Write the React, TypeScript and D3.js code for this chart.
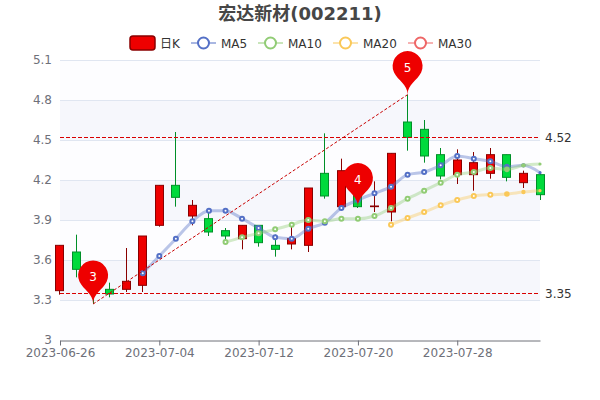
import * as d3 from "d3";
import {useEffect, useRef} from "react";

const dates = [
    "2023-06-26", "2023-06-27", "2023-06-28", "2023-06-29", "2023-06-30", "2023-07-03", "2023-07-04", "2023-07-05",
    "2023-07-06", "2023-07-07", "2023-07-10", "2023-07-11", "2023-07-12", "2023-07-13", "2023-07-14", "2023-07-17",
    "2023-07-18", "2023-07-19", "2023-07-20", "2023-07-21", "2023-07-24", "2023-07-25", "2023-07-26", "2023-07-27",
    "2023-07-28", "2023-07-31", "2023-08-01", "2023-08-02", "2023-08-03", "2023-08-04",
];
const tickDates = ["2023-06-26", "2023-07-04", "2023-07-12", "2023-07-20", "2023-07-28"];
const yTicks = [3, 3.3, 3.6, 3.9, 4.2, 4.5, 4.8, 5.1];

const opens = [3.37, 3.66, 3.5, 3.38, 3.38, 3.41, 3.86, 4.16, 3.93, 3.91, 3.82, 3.76, 3.86, 3.71, 3.72, 3.71, 4.25, 4.0, 4.1, 4.0, 3.96, 4.635, 4.58, 4.39, 4.24, 4.24, 4.25, 4.39, 4.18, 4.24];
const closes = [3.71, 3.53, 3.41, 3.345, 3.44, 3.78, 4.16, 4.07, 4.01, 3.81, 3.78, 3.86, 3.73, 3.68, 3.76, 4.14, 4.08, 4.27, 4.0, 4.005, 4.4, 4.52, 4.38, 4.23, 4.35, 4.33, 4.39, 4.22, 4.25, 4.09];
const highs = [3.71, 3.79, 3.52, 3.43, 3.69, 3.78, 4.16, 4.56, 4.05, 3.96, 3.84, 3.86, 3.86, 3.79, 3.85, 4.14, 4.55, 4.36, 4.1, 4.19, 4.4, 4.84, 4.65, 4.44, 4.43, 4.41, 4.44, 4.39, 4.27, 4.26];
const lows = [3.34, 3.47, 3.27, 3.32, 3.36, 3.36, 3.85, 4.0, 3.86, 3.78, 3.75, 3.68, 3.7, 3.625, 3.68, 3.66, 4.06, 4.0, 3.99, 3.96, 3.89, 4.42, 4.33, 4.205, 4.17, 4.12, 4.21, 4.19, 4.14, 4.05];

// null until the moving average has enough days
const ma5 = [null, null, null, null, null, 3.5, 3.63, 3.76, 3.89, 3.97, 3.97, 3.91, 3.84, 3.77, 3.76, 3.835, 3.88, 3.99, 4.05, 4.1, 4.15, 4.24, 4.26, 4.31, 4.38, 4.36, 4.34, 4.3, 4.31, 4.255];
const ma10 = [null, null, null, null, null, null, null, null, null, null, 3.735, 3.77, 3.8, 3.83, 3.865, 3.9, 3.89, 3.91, 3.91, 3.93, 3.99, 4.06, 4.12, 4.18, 4.24, 4.26, 4.29, 4.28, 4.31, 4.32];
const ma20 = [null, null, null, null, null, null, null, null, null, null, null, null, null, null, null, null, null, null, null, null, 3.865, 3.915, 3.96, 4.01, 4.05, 4.08, 4.09, 4.095, 4.11, 4.12];

const maNames = ["MA5", "MA10", "MA20", "MA30"];
const maColors = ["#5470c6", "#91cc75", "#fac858", "#ee6666"];
const levels = [4.52, 3.35];
const pinIndex = [2, 18, 21];
const pinValue = [3.27, 4.0, 4.84];
const pinLabel = ["3", "4", "5"];

const font = "'DejaVu Sans', 'Noto Sans CJK SC', sans-serif";

// same outline echarts uses for its pin symbol
const pinPath = (x: number, y: number) => {
    const w = 30, h = 50, r = w / 2;
    const dy = r * r / (h - r);
    const cy = y - h + r + dy;
    const angle = Math.asin(dy / r);
    const dx = Math.cos(angle) * r;
    const tanX = Math.sin(angle), tanY = Math.cos(angle);
    const cpLen = r * 0.6, cpLen2 = r * 0.7;
    const p = d3.path();
    p.moveTo(x - dx, cy + dy);
    p.arc(x, cy, r, Math.PI - angle, Math.PI * 2 + angle);
    p.bezierCurveTo(x + dx - tanX * cpLen, cy + dy + tanY * cpLen, x, y - cpLen2, x, y);
    p.bezierCurveTo(x, y - cpLen2, x - dx + tanX * cpLen, cy + dy + tanY * cpLen, x - dx, cy + dy);
    return p.toString();
};

// symbols at the right end are still growing in the reference
const dotRadius = (i: number) => i === 29 ? 1.6 : i === 28 ? 2.2 : i === 27 ? 2.8 : 2;

const App = () => {
    const ref = useRef<SVGSVGElement>(null);

    useEffect(() => {
        const svg = d3.select(ref.current);
        svg.selectAll("*").remove();

        const x = d3.scalePoint().domain(dates).range([60, 540]);
        const y = d3.scaleLinear().domain([3, 5.1]).range([340, 60]);

        // split areas
        svg.append("g").selectAll("rect")
            .data(yTicks.slice(0, -1))
            .join("rect")
            .attr("x", 60)
            .attr("width", 480)
            .attr("y", (d, i) => y(yTicks[i + 1]))
            .attr("height", (d, i) => y(d) - y(yTicks[i + 1]))
            .attr("fill", (d, i) => i % 2 === 0 ? "#fdfdff" : "#f6f7fc");

        // grid
        svg.append("g").selectAll("line")
            .data(yTicks.slice(1))
            .join("line")
            .attr("x1", 60).attr("x2", 540)
            .attr("y1", d => y(d) + 0.5).attr("y2", d => y(d) + 0.5)
            .attr("stroke", "#e0e6f1");

        const yAxis = svg.append("g")
            .attr("transform", "translate(60,0)")
            .call(d3.axisLeft(y).tickValues(yTicks).tickSize(0).tickPadding(8).tickFormat(d => String(d)));
        yAxis.select(".domain").remove();
        yAxis.selectAll("text").attr("fill", "#6e7079").style("font", `12px ${font}`);

        const xAxis = svg.append("g")
            .attr("transform", "translate(0,340.5)")
            .call(d3.axisBottom(x).tickValues(tickDates).tickSizeInner(5).tickSizeOuter(0).tickPadding(3));
        xAxis.select(".domain").attr("stroke", "#6e7079");
        xAxis.selectAll("line").attr("stroke", "#6e7079");
        xAxis.selectAll("text").attr("fill", "#6e7079").style("font", `12px ${font}`);

        // candles
        const candles = svg.append("g").selectAll("g")
            .data(dates)
            .join("g")
            .attr("stroke", (d, i) => closes[i] >= opens[i] ? "#8a0000" : "#008f28");
        candles.append("line")
            .attr("x1", d => Math.floor(x(d)) + 0.5).attr("x2", d => Math.floor(x(d)) + 0.5)
            .attr("y1", (d, i) => y(highs[i])).attr("y2", (d, i) => y(lows[i]));
        candles.append("rect")
            .attr("x", d => Math.floor(x(d)) - 3.5)
            .attr("width", 8)
            .attr("y", (d, i) => y(Math.max(opens[i], closes[i])))
            .attr("height", (d, i) => Math.max(0.5, Math.abs(y(opens[i]) - y(closes[i]))))
            .attr("fill", (d, i) => closes[i] >= opens[i] ? "#ee0000" : "#00da3c");

        // moving averages
        const maLine = d3.line<number | null>()
            .defined(d => d !== null)
            .x((d, i) => x(dates[i]))
            .y(d => y(d as number))
            .curve(d3.curveMonotoneX);
        [ma5, ma10, ma20].forEach((values, k) => {
            const g = svg.append("g");
            g.append("path")
                .attr("d", maLine(values))
                .attr("fill", "none")
                .attr("stroke", maColors[k])
                .attr("stroke-width", 3)
                .attr("stroke-opacity", 0.4);
            g.selectAll("circle")
                .data(values.map((v, i) => ({v, i})).filter(d => d.v !== null))
                .join("circle")
                .attr("cx", d => x(dates[d.i]))
                .attr("cy", d => y(d.v as number))
                .attr("r", d => dotRadius(d.i))
                .attr("fill", d => d.i >= 27 ? maColors[k] : "#fff")
                .attr("stroke", maColors[k])
                .attr("stroke-width", d => d.i >= 27 ? 0 : 2);
        });

        // support / resistance levels
        levels.forEach(level => {
            const ly = Math.floor(y(level)) + 0.5;
            svg.append("line")
                .attr("x1", 60).attr("x2", 540)
                .attr("y1", ly).attr("y2", ly)
                .attr("stroke", "#d80000")
                .attr("stroke-dasharray", "4,2");
            svg.append("text")
                .attr("x", 545).attr("y", ly + 4)
                .attr("fill", "#333")
                .style("font", `12px ${font}`)
                .text(level);
        });

        // trend line between the two outer pins
        svg.append("line")
            .attr("x1", x(dates[pinIndex[0]])).attr("y1", y(pinValue[0]))
            .attr("x2", x(dates[pinIndex[2]])).attr("y2", y(pinValue[2]))
            .attr("stroke", "#c80000")
            .attr("stroke-dasharray", "3,2");

        pinIndex.forEach((idx, i) => {
            svg.append("path")
                .attr("d", pinPath(x(dates[idx]), y(pinValue[i])))
                .attr("fill", "#ee0000");
            svg.append("text")
                .attr("x", x(dates[idx])).attr("y", y(pinValue[i]) - 23)
                .attr("text-anchor", "middle")
                .attr("fill", "#fff")
                .style("font", `12px ${font}`)
                .text(pinLabel[i]);
        });

        // title
        svg.append("text")
            .attr("x", 300).attr("y", 20)
            .attr("text-anchor", "middle")
            .attr("fill", "#464646")
            .style("font", `bold 18px ${font}`)
            .text("宏达新材(002211)");

        // legend
        const legend = svg.append("g");
        legend.append("rect")
            .attr("x", 130).attr("y", 36)
            .attr("width", 25).attr("height", 14).attr("rx", 3)
            .attr("fill", "#ee0000").attr("stroke", "#8a0000").attr("stroke-width", 1.5);
        legend.append("text")
            .attr("x", 160).attr("y", 47.5)
            .attr("fill", "#333")
            .style("font", `12px ${font}`)
            .text("日K");
        const legendX = [191, 258, 333, 408];
        maNames.forEach((name, i) => {
            legend.append("line")
                .attr("x1", legendX[i]).attr("x2", legendX[i] + 25)
                .attr("y1", 43).attr("y2", 43)
                .attr("stroke", maColors[i]).attr("stroke-width", 2).attr("stroke-opacity", 0.5);
            legend.append("circle")
                .attr("cx", legendX[i] + 12.5).attr("cy", 43).attr("r", 5.5)
                .attr("fill", "#fff").attr("stroke", maColors[i]).attr("stroke-width", 2);
            legend.append("text")
                .attr("x", legendX[i] + 30).attr("y", 47.5)
                .attr("fill", "#333")
                .style("font", `12px ${font}`)
                .text(name);
        });
    }, []);

    return <svg ref={ref} width={600} height={400} style={{position: "absolute", left: 0, top: 0}}/>;
};

export default App;
